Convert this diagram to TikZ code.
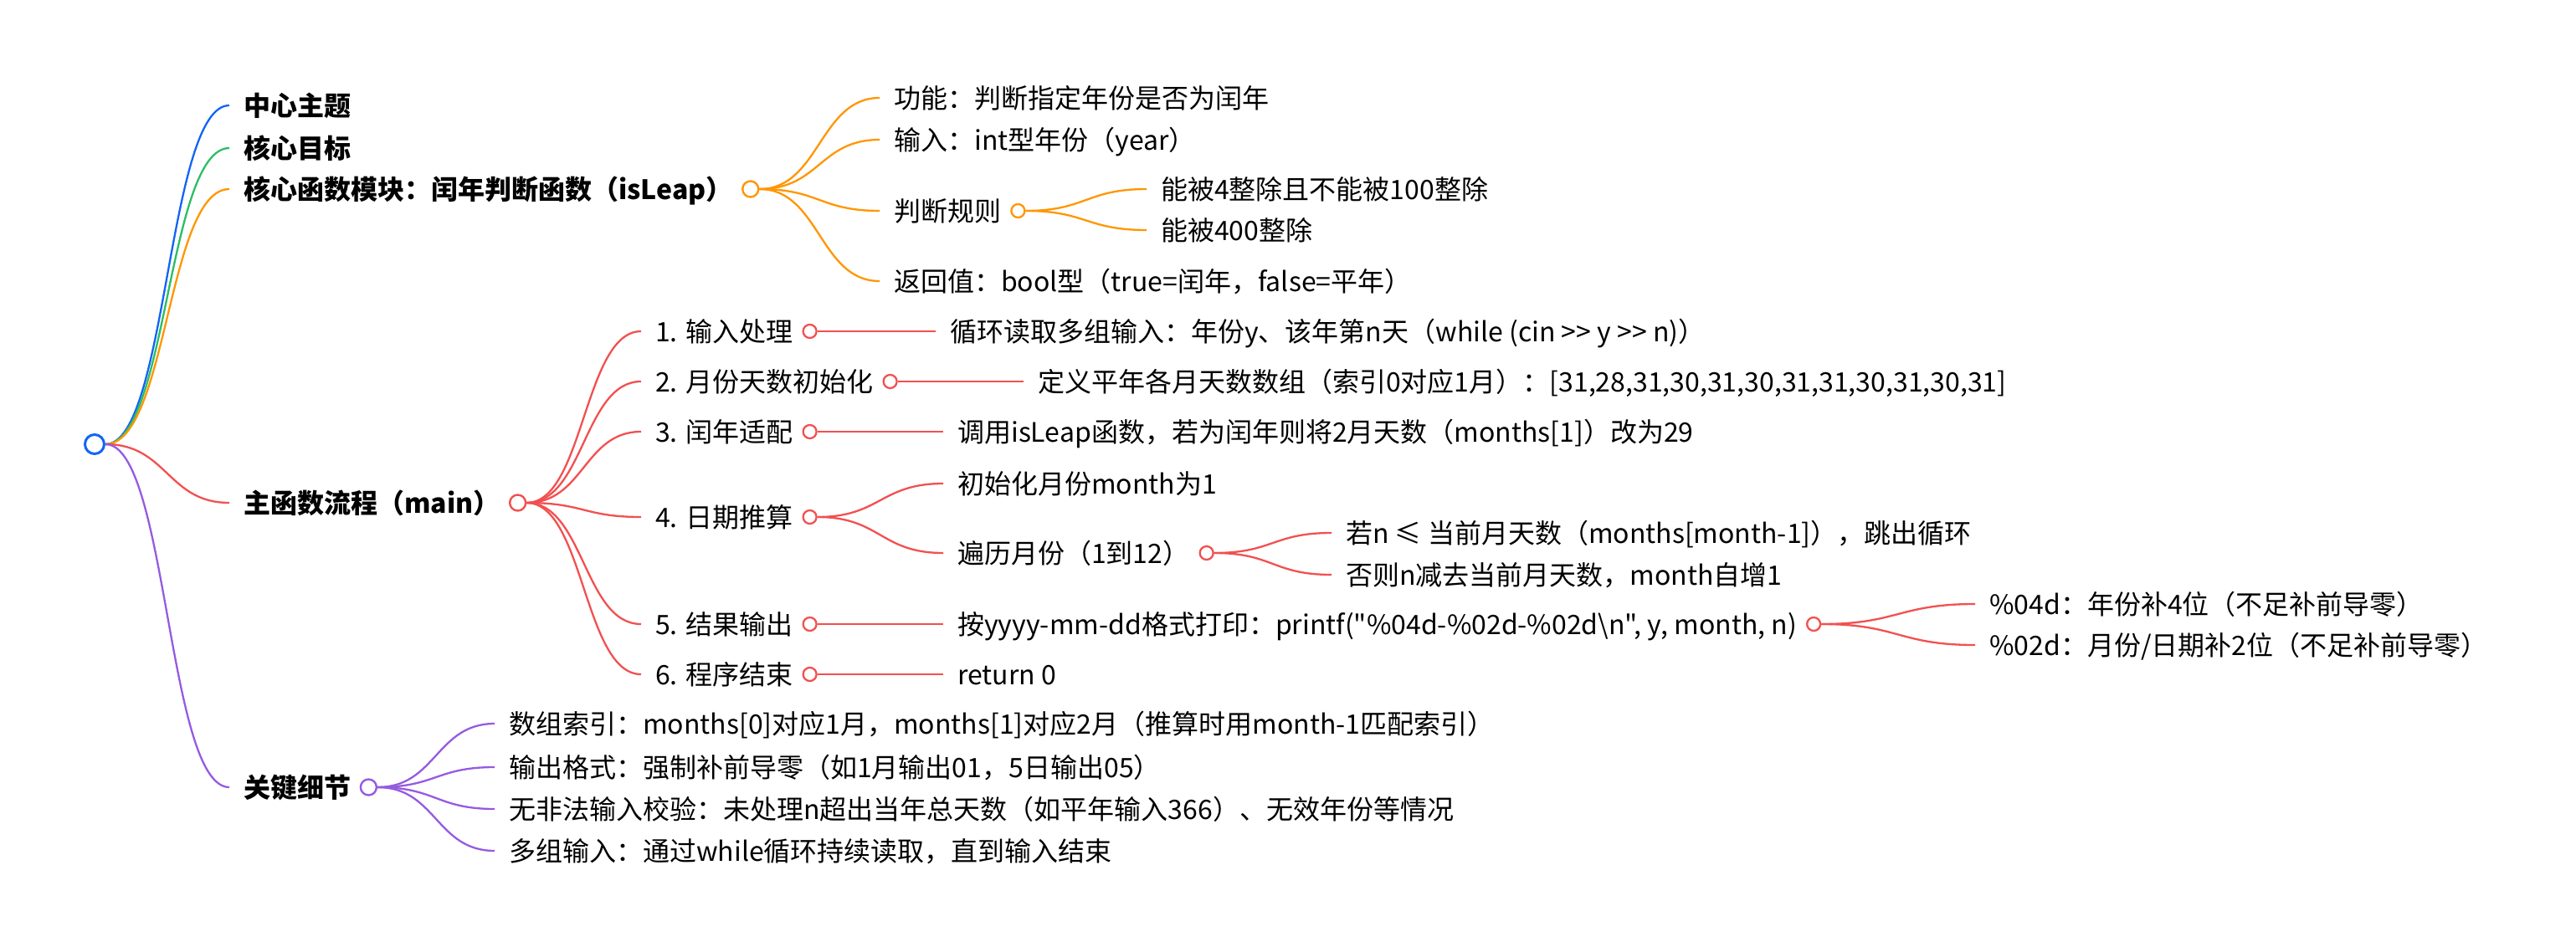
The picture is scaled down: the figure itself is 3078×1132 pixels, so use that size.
\documentclass[tikz,border=0pt]{standalone}
\usepackage{fontspec}
\setmainfont{Noto Sans CJK SC}[Ligatures=TeXOff]
\usetikzlibrary{calc}
\definecolor{cblue}{RGB}{18,100,245}
\definecolor{cgreen}{RGB}{42,190,100}
\definecolor{corange}{RGB}{255,150,0}
\definecolor{cred}{RGB}{242,80,80}
\definecolor{cpurple}{RGB}{150,90,225}
\begin{document}
\begin{tikzpicture}[x=1pt,y=-1pt,
  txt/.style={anchor=west, inner xsep=17pt, inner ysep=0pt, text height=28pt, text depth=4pt, text=black, font=\fontsize{32}{38}\selectfont},
  bold/.style={txt, font=\fontsize{32}{38}\selectfont\bfseries},
  dot/.style={circle, draw, fill=white, inner sep=0pt, minimum size=19pt, line width=2.4pt},
  sdot/.style={dot, minimum size=16pt, line width=2.3pt},
  link/.style={line width=2.3pt, to path={let \p1=(\tikztostart), \p2=(\tikztotarget), \p3=($(\tikztostart)!0.5!(\tikztotarget)$) in .. controls (\x3,\y1) and (\x3,\y2) .. (\tikztotarget)}},
]
\useasboundingbox (0,0) rectangle (3078,1132);

% root
\node[dot, draw=cblue, minimum size=23pt, line width=3pt] (root) at (113,531) {};

% level 1
\node[bold] (t1) at (274,126) {中心主题};
\node[bold] (t2) at (274,177) {核心目标};
\node[bold] (t3) at (274,226) {核心函数模块：闰年判断函数（isLeap）};
\node[bold] (t4) at (274,601) {主函数流程（main）};
\node[bold] (t5) at (274,941) {关键细节};

\node[dot, draw=corange] (c3) at ([xshift=4pt]t3.east) {};
\node[dot, draw=cred] (c4) at ([xshift=4pt]t4.east) {};
\node[dot, draw=cpurple] (c5) at ([xshift=4pt]t5.east) {};

\draw[link, cblue] (root.east) to (t1.west);
\draw[link, cgreen] (root.east) to (t2.west);
\draw[link, corange] (root.east) to (t3.west);
\draw[link, cred] (root.east) to (t4.west);
\draw[link, cpurple] (root.east) to (t5.west);

% orange branch
\node[txt] (o1) at (1051,117) {功能：判断指定年份是否为闰年};
\node[txt] (o2) at (1051,167) {输入：int型年份（year）};
\node[txt] (o3) at (1051,252) {判断规则};
\node[txt] (o4) at (1051,336) {返回值：bool型（true=闰年，false=平年）};
\node[sdot, draw=corange] (co3) at ([xshift=3pt]o3.east) {};
\node[txt] (o31) at (1370,226) {能被4整除且不能被100整除};
\node[txt] (o32) at (1370,275) {能被400整除};
\foreach \nm in {o1,o2,o3,o4} \draw[link, corange] (c3.east) to (\nm.west);
\foreach \nm in {o31,o32} \draw[link, corange] (co3.east) to (\nm.west);

% red branch
\node[txt] (r1) at (766,396) {1. 输入处理};
\node[txt] (r2) at (766,456) {2. 月份天数初始化};
\node[txt] (r3) at (766,516) {3. 闰年适配};
\node[txt] (r4) at (766,618) {4. 日期推算};
\node[txt] (r5) at (766,746) {5. 结果输出};
\node[txt] (r6) at (766,806) {6. 程序结束};
\foreach \nm in {r1,r2,r3,r4,r5,r6} {
  \node[sdot, draw=cred] (c\nm) at ([xshift=3pt]\nm.east) {};
  \draw[link, cred] (c4.east) to (\nm.west);
}
\node[txt] (r11) at (1118,396) {循环读取多组输入：年份y、该年第n天（while (cin >> y >> n)）};
\node[txt] (r21) at (1223,456) {定义平年各月天数数组（索引0对应1月）：[31,28,31,30,31,30,31,31,30,31,30,31]};
\node[txt] (r31) at (1127,516) {调用isLeap函数，若为闰年则将2月天数（months[1]）改为29};
\node[txt] (r41) at (1127,578) {初始化月份month为1};
\node[txt] (r42) at (1127,661) {遍历月份（1到12）};
\node[txt] (r51) at (1127,746) {按yyyy-mm-dd格式打印：printf("\%04d-\%02d-\%02d\textbackslash n", y, month, n)};
\node[txt] (r61) at (1127,806) {return 0};
\draw[link, cred] (cr1.east) to (r11.west);
\draw[link, cred] (cr2.east) to (r21.west);
\draw[link, cred] (cr3.east) to (r31.west);
\draw[link, cred] (cr4.east) to (r41.west);
\draw[link, cred] (cr4.east) to (r42.west);
\draw[link, cred] (cr5.east) to (r51.west);
\draw[link, cred] (cr6.east) to (r61.west);

\node[sdot, draw=cred] (cr42) at ([xshift=3pt]r42.east) {};
\node[txt] (r421) at (1591,637) {若n ≤ 当前月天数（months[month-1]），跳出循环};
\node[txt] (r422) at (1591,687) {否则n减去当前月天数，month自增1};
\draw[link, cred] (cr42.east) to (r421.west);
\draw[link, cred] (cr42.east) to (r422.west);

\node[sdot, draw=cred] (cr51) at ([xshift=3pt]r51.east) {};
\node[txt] (r511) at (2360,722) {\%04d：年份补4位（不足补前导零）};
\node[txt] (r512) at (2360,771) {\%02d：月份/日期补2位（不足补前导零）};
\draw[link, cred] (cr51.east) to (r511.west);
\draw[link, cred] (cr51.east) to (r512.west);

% purple branch
\node[txt] (p1) at (591,865) {数组索引：months[0]对应1月，months[1]对应2月（推算时用month-1匹配索引）};
\node[txt] (p2) at (591,917) {输出格式：强制补前导零（如1月输出01，5日输出05）};
\node[txt] (p3) at (591,967) {无非法输入校验：未处理n超出当年总天数（如平年输入366）、无效年份等情况};
\node[txt] (p4) at (591,1017) {多组输入：通过while循环持续读取，直到输入结束};
\foreach \nm in {p1,p2,p3,p4} \draw[link, cpurple] (c5.east) to (\nm.west);
\end{tikzpicture}
\end{document}
